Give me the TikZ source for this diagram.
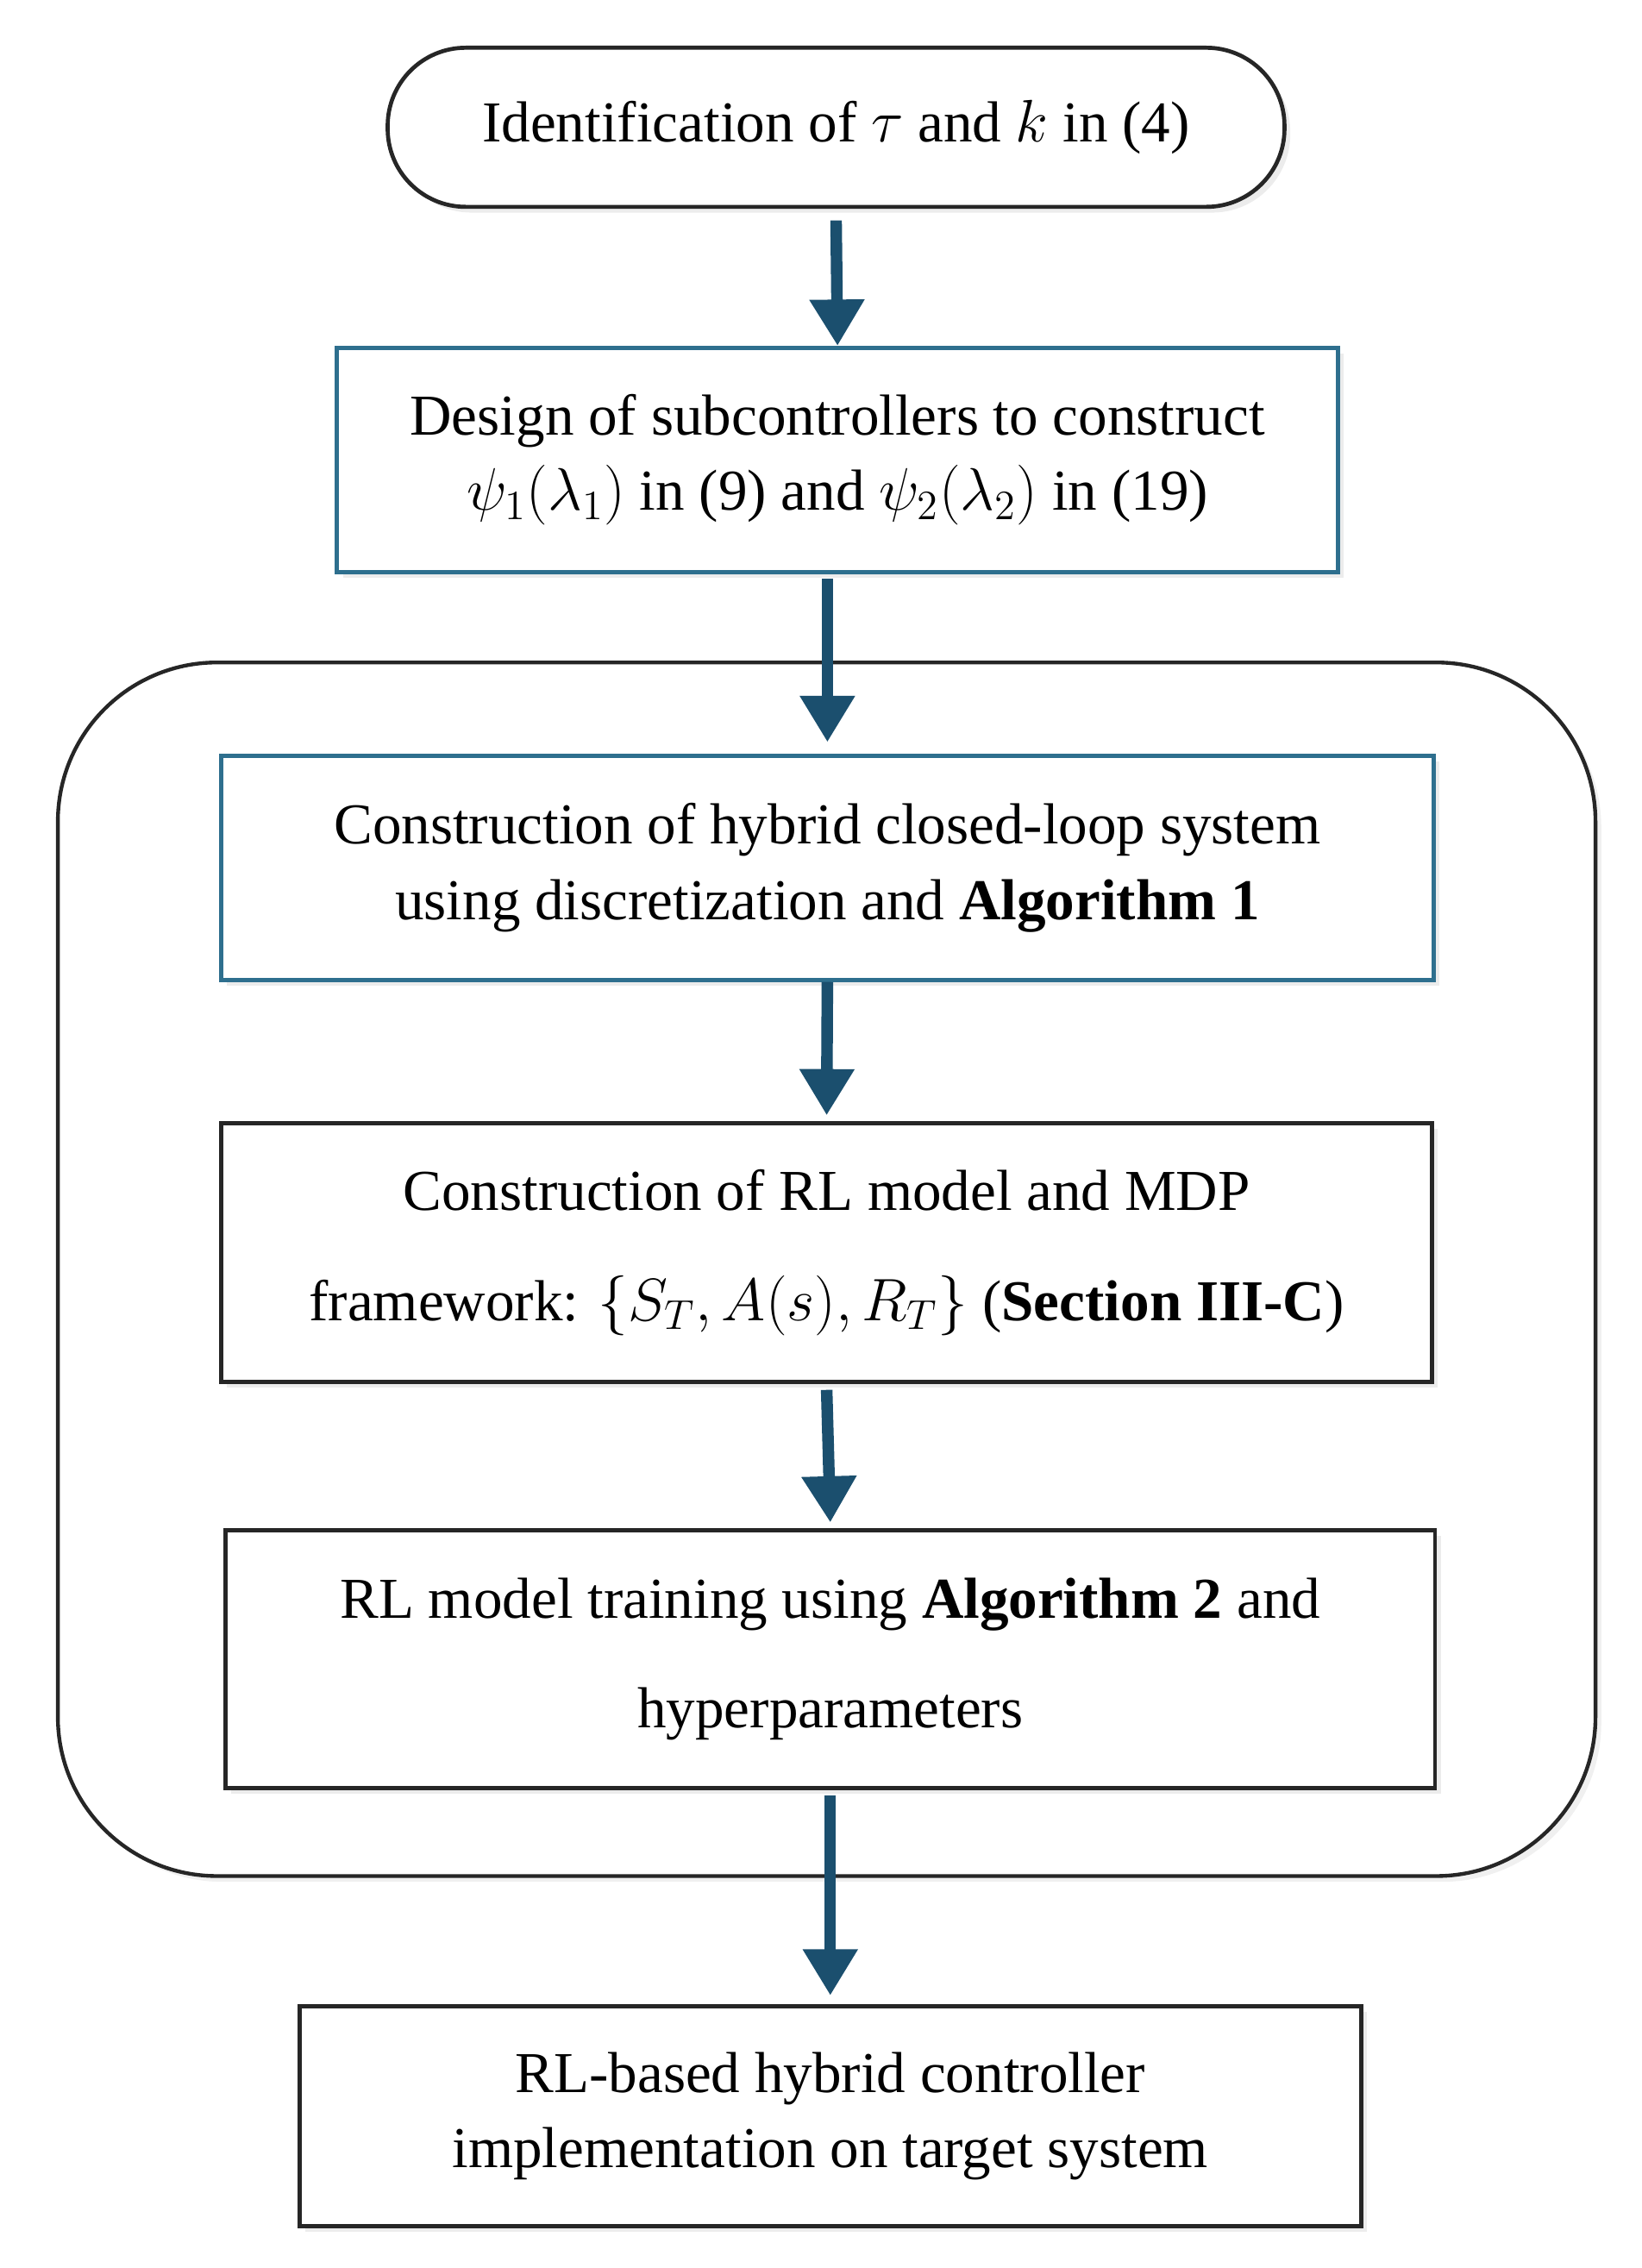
\documentclass[tikz,border=0pt]{standalone}
\usepackage{fontspec}
\setmainfont{Liberation Serif}
\usetikzlibrary{arrows.meta,shadows}
\definecolor{arr}{HTML}{1B4F6E}
\definecolor{teal}{HTML}{2E6F8E}
\begin{document}
\begin{tikzpicture}[x=0.5pt,y=-0.5pt,
  box/.style={draw,line width=1.4pt,inner sep=0pt,align=center,font=\fontsize{20}{26}\selectfont,fill=white,drop shadow={opacity=0.15,shadow xshift=2pt,shadow yshift=-2pt}},
  arrow/.style={draw=arr,line width=4pt,-{Triangle[width=18pt,length=16pt]}}]
\useasboundingbox (0,0) rectangle (1135,1568);
\node[draw=black!85,line width=1.3pt,rounded corners=55pt,minimum width=531.5pt,minimum height=419.5pt,drop shadow={opacity=0.12,shadow xshift=2pt,shadow yshift=-2pt},fill=white] (cont) at (571.5,877.5) {};
\node[box,draw=black!85,rounded corners=27pt,minimum width=310pt,minimum height=55pt] (n1) at (578,88) {Identification of $\tau$ and $k$ in (4)};
\node[box,draw=teal,minimum width=346pt,minimum height=77.5pt] (n2) at (579,318) {Design of subcontrollers to construct\\$\psi_1(\lambda_1)$ in (9) and $\psi_2(\lambda_2)$ in (19)};
\node[box,draw=teal,minimum width=419pt,minimum height=77.5pt] (n3) at (572,600) {Construction of hybrid closed-loop system\\using discretization and \textbf{Algorithm 1}};
\node[box,draw=black!85,minimum width=418.5pt,minimum height=89.5pt,font=\fontsize{20}{38}\selectfont] (n4) at (571.5,866) {Construction of RL model and MDP\\framework: $\{S_T, A(s), R_T\}$ (\textbf{Section III-C})};
\node[box,draw=black!85,minimum width=418pt,minimum height=89pt,font=\fontsize{20}{38}\selectfont] (n5) at (574,1147) {RL model training using \textbf{Algorithm 2} and\\hyperparameters};
\node[box,draw=black!85,minimum width=367pt,minimum height=76pt] (n6) at (574,1463) {RL-based hybrid controller\\implementation on target system};
\coordinate (a2) at (572,400);
\draw[arrow] ([yshift=-4pt]n1.south) -- (n2.north);
\draw[arrow] (a2) -- ([yshift=4pt]n3.north);
\draw[arrow] (n3.south) -- ([yshift=2pt]n4.north);
\draw[arrow] ([yshift=-2pt]n4.south) -- ([yshift=2pt]n5.north);
\draw[arrow] ([yshift=-2pt]n5.south) -- ([yshift=3pt]n6.north);
\end{tikzpicture}
\end{document}
